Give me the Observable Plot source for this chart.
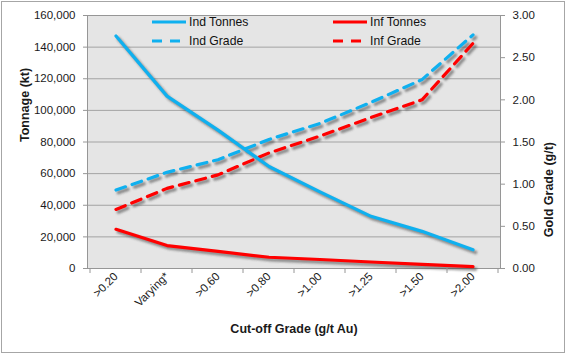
<!DOCTYPE html>
<html><head><meta charset="utf-8">
<script src="https://cdn.jsdelivr.net/npm/d3@7"></script>
<script src="https://cdn.jsdelivr.net/npm/@observablehq/plot@0.6"></script>
<style>
body{margin:0;background:#fff;}
#wrap{position:relative;width:568px;height:355px;overflow:hidden;font-family:"Liberation Sans",Arial,sans-serif;background:#fff;}
#border{position:absolute;left:1px;top:1px;width:562px;height:350px;border:1px solid #a6a6a6;pointer-events:none;}
#legend{position:absolute;left:152px;top:12px;display:grid;grid-template-columns:181px 120px;grid-auto-rows:19px;font-size:12.2px;color:#111;}
#legend .item{display:flex;align-items:center;white-space:nowrap;}
#legend svg{margin-right:3px;}
</style>
</head><body>
<div id="wrap"><div id="chart"></div><div id="legend"></div><div id="border"></div></div>
<script>
const categories = [">0.20","Varying*",">0.60",">0.80",">1.00",">1.25",">1.50",">2.00"];
const indTonnes = [147000,109000,87500,64500,48500,33000,23500,11800];
const infTonnes = [24800,14500,10800,7100,5700,4100,2600,1200];
const indGrade = [0.93,1.14,1.29,1.53,1.72,1.97,2.24,2.77];
const infGrade = [0.70,0.95,1.11,1.37,1.57,1.79,2.00,2.67];
const tonnageTicks = [0,20000,40000,60000,80000,100000,120000,140000,160000];
const gradeTicks = [0,0.5,1.0,1.5,2.0,2.5,3.0];
const tonnageMax = 160000, gradeMax = 3;
const k = tonnageMax / gradeMax;

const BLUE = "#0fb0ef", RED = "#ff0000";
const series = [
  {name:"Ind Tonnes", values: indTonnes, grade:false, color: BLUE, dash: null},
  {name:"Inf Tonnes", values: infTonnes, grade:false, color: RED, dash: null},
  {name:"Ind Grade", values: indGrade, grade:true, color: BLUE, dash: "10,7"},
  {name:"Inf Grade", values: infGrade, grade:true, color: RED, dash: "10,7"}
];
const rows = series.flatMap(s => s.values.map((v,i) => ({series: s.name, cat: categories[i], y: s.grade ? v*k : v})));

const marks = [
  Plot.frame({fill:"#e5e5e5", stroke:null}),
  Plot.gridY(tonnageTicks, {stroke:"#a3a3a3", strokeOpacity:1}),
  Plot.frame({stroke:"#969696"})
];
// shadow lines (first four line marks), offset and blurred after rendering
for (const s of series) {
  marks.push(Plot.line(rows.filter(r=>r.series===s.name), {x:"cat", y:"y", stroke:"#444", strokeOpacity:0.55, strokeWidth:3.6, strokeDasharray: s.dash}));
}
for (const s of [series[2],series[3],series[0],series[1]]) {
  marks.push(Plot.line(rows.filter(r=>r.series===s.name), {x:"cat", y:"y", stroke:s.color, strokeWidth:3.2, strokeDasharray: s.dash}));
}
marks.push(
  Plot.axisY(tonnageTicks, {anchor:"left", tickFormat: d3.format(","), tickSize:4, tickPadding:8, label:null, stroke:"#969696", fontSize:11.5}),
  Plot.axisY(gradeTicks.map(g=>g*k), {anchor:"right", tickFormat: d=>d3.format(".2f")(d/k), tickSize:4, tickPadding:8, label:null, stroke:"#969696", fontSize:11.5}),
  Plot.axisX({tickRotate:-45, tickSize:0, tickPadding:6, label:null, fontSize:11.5}),
  Plot.text(["Tonnage (kt)"], {frameAnchor:"left", rotate:-90, dx:-63, fontWeight:"bold", fontSize:12.5}),
  Plot.text(["Gold Grade (g/t)"], {frameAnchor:"right", rotate:-90, dx:48, fontWeight:"bold", fontSize:12.5}),
  Plot.text(["Cut-off Grade (g/t Au)"], {frameAnchor:"bottom", dy:64, fontWeight:"bold", fontSize:12.5})
);

const chart = Plot.plot({
  width:568, height:355,
  marginLeft:87, marginRight:68, marginTop:15, marginBottom:87,
  style:{fontFamily:'"Liberation Sans",Arial,sans-serif', fontSize:"11.5px", color:"#1a1a1a", background:"transparent", overflow:"visible"},
  x:{type:"band", domain:categories, padding:0, axis:null},
  y:{domain:[0,tonnageMax], axis:null},
  marks
});
document.getElementById("chart").appendChild(chart);

const svg = d3.select(chart);
svg.insert("defs", ":first-child").append("filter").attr("id","sh")
  .attr("filterUnits","userSpaceOnUse").attr("x",0).attr("y",0).attr("width",568).attr("height",355)
  .append("feGaussianBlur").attr("stdDeviation", 1.1);
svg.selectAll('[aria-label="line"]').filter((d,i) => i < series.length).each(function() {
  const t = this.getAttribute("transform") || "";
  const w = document.createElementNS("http://www.w3.org/2000/svg","g");
  w.setAttribute("transform","translate(2.5,2.5)");
  w.setAttribute("filter","url(#sh)");
  this.parentNode.insertBefore(w, this);
  w.appendChild(this);
});

const sx = chart.scale("x"), sy = chart.scale("y");
const y0 = sy.apply(0);
const bounds = categories.map(c => sx.apply(c)).concat([sx.apply(categories[categories.length-1]) + sx.bandwidth]);
svg.append("g").selectAll("line").data(bounds).join("line")
  .attr("x1", d=>d).attr("x2", d=>d).attr("y1", y0).attr("y2", y0+5)
  .attr("stroke","#969696");

const legend = d3.select("#legend");
for (const s of series) {
  const it = legend.append("div").attr("class","item");
  const ls = it.append("svg").attr("width",34).attr("height",8);
  ls.append("line").attr("x1",0).attr("x2",34).attr("y1",4).attr("y2",4)
    .attr("stroke",s.color).attr("stroke-width",3.2).attr("stroke-dasharray", s.dash ? "10,8" : null);
  it.append("span").text(s.name);
}
</script>
</body></html>
